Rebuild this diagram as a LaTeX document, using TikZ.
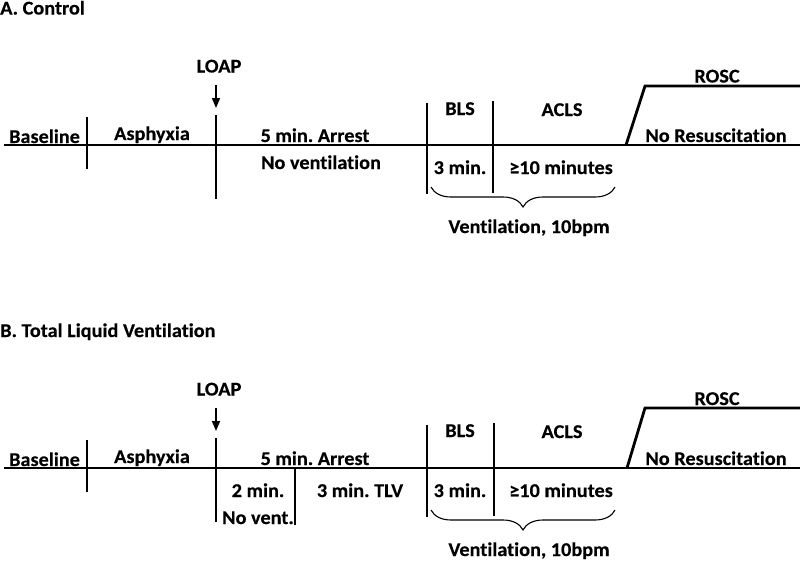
\documentclass[tikz,border=0pt]{standalone}
\usepackage{fontspec}
\setmainfont{Carlito}[FakeStretch=1.04,Ligatures=NoCommon,BoldFeatures={FakeBold=0.3}]
\frenchspacing
\usetikzlibrary{decorations.pathreplacing,arrows.meta}
\begin{document}
\frenchspacing
\begin{tikzpicture}[x=1pt,y=-1pt,
  lbl/.style={anchor=base,inner sep=0pt,font=\fontsize{19.5}{23}\selectfont\bfseries},
  ttl/.style={lbl,anchor=base west},
  tl/.style={line width=2.8pt},
  tick/.style={line width=2.6pt},
  loaparrow/.style={line width=1.5pt,-{Triangle[length=10pt,width=8pt]}},
  brc/.style={line width=1.1pt,decorate,decoration={brace,mirror,amplitude=20pt}}]
\useasboundingbox (0,0) rectangle (800,560);

% ---------------- Panel A ----------------
\node[ttl] (tA) at (0,14.5) {A. Control};
\node[lbl] (loapA) at (219,72.5) {LOAP};
\coordinate (arA0) at (216,85); \coordinate (arA1) at (216,108);
\draw[loaparrow] (arA0) -- (arA1);

\coordinate (mA0) at (4,145); \coordinate (mA1) at (800,145);
\draw[tl] (mA0) -- (mA1);
\coordinate (sA0) at (626,145); \coordinate (sA1) at (645,86); \coordinate (sA2) at (800,86);
\draw[tl,line join=miter] (sA0) -- (sA1) -- (sA2);

\coordinate (k1a) at (87,117);  \coordinate (k1b) at (87,169);
\coordinate (k2a) at (216,115); \coordinate (k2b) at (216,199);
\coordinate (k3a) at (427,103); \coordinate (k3b) at (427,194);
\coordinate (k4a) at (493,101); \coordinate (k4b) at (493,193);
\draw[tick] (k1a) -- (k1b);
\draw[tick] (k2a) -- (k2b);
\draw[tick] (k3a) -- (k3b);
\draw[tick] (k4a) -- (k4b);

\node[lbl] (baseA) at (44.5,143) {Baseline};
\node[lbl] (asphA) at (152,140) {Asphyxia};
\node[lbl] (arrA) at (315,142) {5 min. Arrest};
\node[lbl] (novA) at (321,169) {No ventilation};
\node[lbl] (blsA) at (460,115) {BLS};
\node[lbl] (aclsA) at (562,116) {ACLS};
\node[lbl] (roscA) at (717,82.5) {ROSC};
\node[lbl] (nresA) at (716,142) {No Resuscitation};
\node[lbl] (t3A) at (460,174) {3 min.};
\node[lbl] (t10A) at (561,174) {≥10 minutes};
\coordinate (bA0) at (431,187); \coordinate (bA1) at (615,187);
\draw[brc] (bA0) -- (bA1);
\node[lbl] (ventA) at (529,233) {Ventilation, 10bpm};

% ---------------- Panel B ----------------
\node[ttl] (tB) at (0,337) {B. Total Liquid Ventilation};
\node[lbl] (loapB) at (219,395.5) {LOAP};
\coordinate (arB0) at (216,408); \coordinate (arB1) at (216,431);
\draw[loaparrow] (arB0) -- (arB1);

\coordinate (mB0) at (4,468); \coordinate (mB1) at (800,468);
\draw[tl] (mB0) -- (mB1);
\coordinate (sB0) at (627,468); \coordinate (sB1) at (645,408); \coordinate (sB2) at (800,408);
\draw[tl,line join=miter] (sB0) -- (sB1) -- (sB2);

\coordinate (q1a) at (87,440);  \coordinate (q1b) at (87,492);
\coordinate (q2a) at (216,438); \coordinate (q2b) at (216,522);
\coordinate (q5a) at (295,468); \coordinate (q5b) at (295,525);
\coordinate (q3a) at (427,425); \coordinate (q3b) at (427,517);
\coordinate (q4a) at (494,423); \coordinate (q4b) at (494,516);
\draw[tick] (q1a) -- (q1b);
\draw[tick] (q2a) -- (q2b);
\draw[tick] (q5a) -- (q5b);
\draw[tick] (q3a) -- (q3b);
\draw[tick] (q4a) -- (q4b);

\node[lbl] (baseB) at (44.5,466) {Baseline};
\node[lbl] (asphB) at (152,463) {Asphyxia};
\node[lbl] (arrB) at (315,465) {5 min. Arrest};
\node[lbl] (t2B) at (258,497) {2 min.};
\node[lbl] (nvB) at (258,524) {No vent.};
\node[lbl] (tlvB) at (360,497) {3 min. TLV};
\node[lbl] (blsB) at (460,437) {BLS};
\node[lbl] (aclsB) at (562,438) {ACLS};
\node[lbl] (roscB) at (717,405) {ROSC};
\node[lbl] (nresB) at (716,465) {No Resuscitation};
\node[lbl] (t3B) at (460,497) {3 min.};
\node[lbl] (t10B) at (561,497) {≥10 minutes};
\coordinate (bB0) at (431,510); \coordinate (bB1) at (615,510);
\draw[brc] (bB0) -- (bB1);
\node[lbl] (ventB) at (529,556) {Ventilation, 10bpm};
\end{tikzpicture}
\end{document}
